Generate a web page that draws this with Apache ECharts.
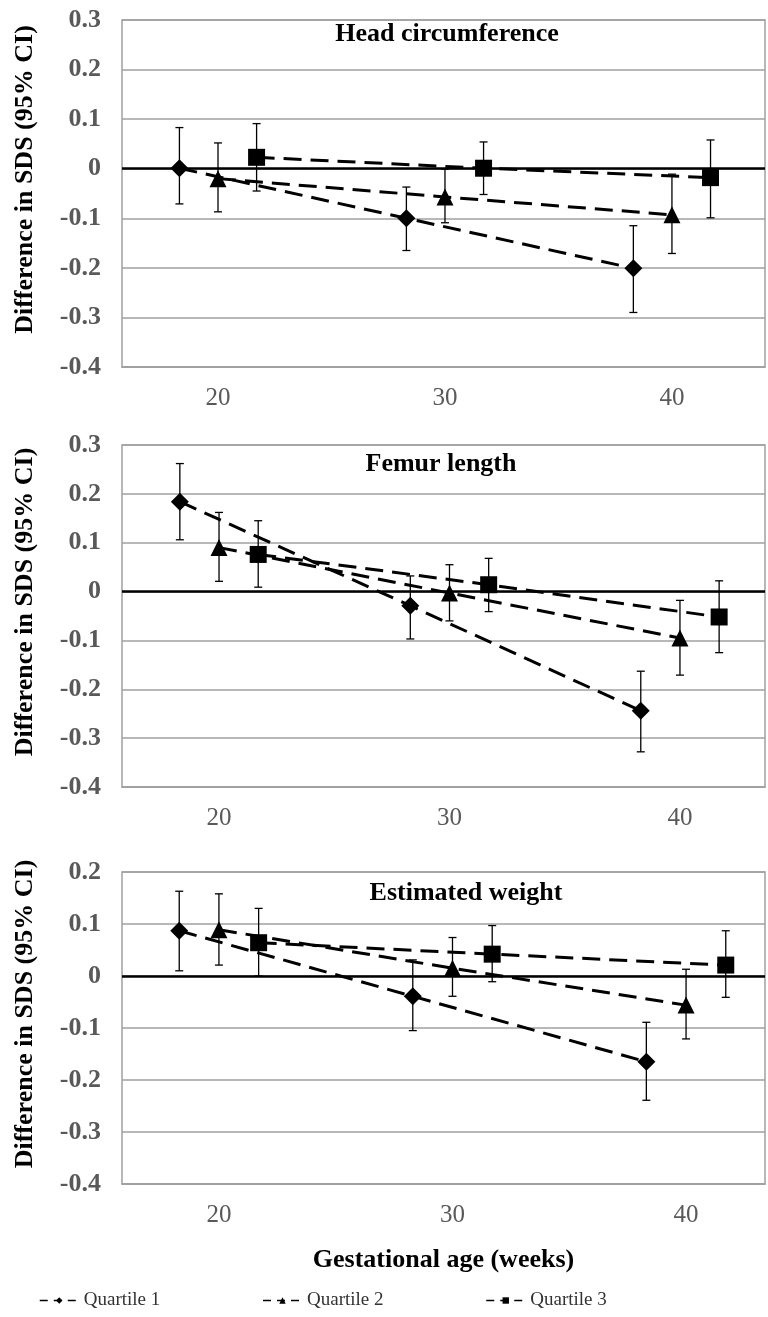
<!DOCTYPE html>
<html>
<head>
<meta charset="utf-8">
<title>Difference in SDS by quartile</title>
<script src="https://cdn.jsdelivr.net/npm/echarts@6/dist/echarts.min.js"></script>
<style>
    html, body { margin: 0; padding: 0; background: #fff; }
    #main { width: 768px; height: 1317px; }
</style>
</head>
<body>
<div id="main"></div>
<script>
    var quartiles = ['Quartile 1', 'Quartile 2', 'Quartile 3'];
    var symbols = ['diamond', 'triangle', 'rect'];
    // gestational age of each measurement, per quartile (offset around 20/30/40 wk)
    var weeksQ1 = [18.3, 28.3, 38.3];
    var weeksQ2 = [20, 30, 40];
    var weeksQ3 = [21.7, 31.7, 41.7];
    var xTicks = [20, 30, 40];
    var panelTitles = ['Head circumference', 'Femur length', 'Estimated weight'];

    // Head circumference: rows = quartile 1..3, cols = 20/30/40 wk
    var headEst  = [[0.001, -0.100, -0.201], [-0.020, -0.057, -0.093], [0.023, 0.001, -0.018]];
    var headLow  = [[-0.071, -0.165, -0.290], [-0.087, -0.109, -0.171], [-0.045, -0.052, -0.099]];
    var headHigh = [[0.083, -0.037, -0.115], [0.052, -0.001, -0.011], [0.091, 0.054, 0.058]];

    // Femur length
    var femurEst  = [[0.184, -0.029, -0.244], [0.090, -0.003, -0.095], [0.076, 0.014, -0.052]];
    var femurLow  = [[0.106, -0.097, -0.328], [0.021, -0.060, -0.171], [0.009, -0.041, -0.125]];
    var femurHigh = [[0.262, 0.032, -0.163], [0.162, 0.055, -0.018], [0.145, 0.068, 0.022]];

    // Estimated weight
    var weightEst  = [[0.087, -0.039, -0.165], [0.089, 0.015, -0.056], [0.064, 0.042, 0.021]];
    var weightLow  = [[0.010, -0.105, -0.239], [0.021, -0.039, -0.121], [0.000, -0.011, -0.041]];
    var weightHigh = [[0.163, 0.031, -0.089], [0.158, 0.074, 0.013], [0.130, 0.097, 0.087]];

    var weeks = [weeksQ1, weeksQ2, weeksQ3];
    var panels = [
        {est: headEst, low: headLow, high: headHigh},
        {est: femurEst, low: femurLow, high: femurHigh},
        {est: weightEst, low: weightLow, high: weightHigh}
    ];

    var serif = '"Liberation Serif", "Times New Roman", serif';
    var gridBox = [
        {top: 20, height: 347},
        {top: 445, height: 342},
        {top: 872, height: 312}
    ];
    var xRange = [[15.77, 44.1], [15.79, 43.69], [15.85, 43.38]];
    var yMax = [0.3, 0.3, 0.2];
    var titlePos = [[447, 21], [441, 451], [466, 880]];

    function errorBar(params, api) {
        var x = api.value(0);
        var top = api.coord([x, api.value(2)]);
        var bot = api.coord([x, api.value(1)]);
        var hw = 4;
        var style = {stroke: '#000', lineWidth: 1.3};
        return {
            type: 'group',
            children: [
                {type: 'line', shape: {x1: top[0], y1: top[1], x2: bot[0], y2: bot[1]}, style: style},
                {type: 'line', shape: {x1: top[0] - hw, y1: top[1], x2: top[0] + hw, y2: top[1]}, style: style},
                {type: 'line', shape: {x1: bot[0] - hw, y1: bot[1], x2: bot[0] + hw, y2: bot[1]}, style: style}
            ]
        };
    }

    var grids = [], xAxes = [], yAxes = [], series = [], titles = [];
    for (var p = 0; p < 3; p++) {
        grids.push({
            left: 122, right: 3, top: gridBox[p].top, height: gridBox[p].height,
            show: true, borderColor: '#a0a0a0', borderWidth: 1.5, backgroundColor: '#fff'
        });
        xAxes.push({
            type: 'value', gridIndex: p, min: xRange[p][0], max: xRange[p][1],
            axisLine: {onZero: false, lineStyle: {color: '#a0a0a0', width: 1.5}},
            axisTick: {show: false},
            splitLine: {show: false},
            axisLabel: {
                customValues: xTicks, margin: 19,
                fontFamily: serif, fontSize: 25, color: '#595959'
            },
            name: p === 2 ? 'Gestational age (weeks)' : '',
            nameLocation: 'middle', nameGap: 63,
            nameTextStyle: {fontFamily: serif, fontSize: 26, fontWeight: 'bold', color: '#000'}
        });
        yAxes.push({
            type: 'value', gridIndex: p, min: -0.4, max: yMax[p], interval: 0.1,
            axisLine: {show: false},
            axisTick: {show: false},
            splitLine: {lineStyle: {color: '#a0a0a0', width: 1.5}},
            axisLabel: {margin: 21, fontFamily: serif, fontSize: 26, fontWeight: 'bold', color: '#595959'},
            name: 'Difference in SDS (95% CI)',
            nameLocation: 'middle', nameRotate: 90, nameGap: 84,
            nameTextStyle: {fontFamily: serif, fontSize: 26, fontWeight: 'bold', color: '#000', padding: [0, 0, 0, 28]}
        });
        titles.push({
            text: panelTitles[p], left: titlePos[p][0], top: titlePos[p][1], textAlign: 'center', padding: 0,
            textStyle: {fontFamily: serif, fontSize: 26, fontWeight: 'bold', color: '#000'}
        });

        var d = panels[p];
        for (var q = 0; q < 3; q++) {
            var bars = [], pts = [];
            for (var i = 0; i < 3; i++) {
                bars.push([weeks[q][i], d.low[q][i], d.high[q][i]]);
                pts.push([weeks[q][i], d.est[q][i]]);
            }
            series.push({
                type: 'custom', xAxisIndex: p, yAxisIndex: p, silent: true,
                renderItem: errorBar, encode: {x: 0, y: [1, 2]}, data: bars, z: 3
            });
            series.push({
                name: quartiles[q], type: 'line', xAxisIndex: p, yAxisIndex: p,
                data: pts, symbol: symbols[q], symbolSize: q === 0 ? 18 : 17,
                itemStyle: {color: '#000'},
                lineStyle: {color: '#000', width: 3, type: [18, 9]},
                z: 4, animation: false
            });
        }
        // solid zero line
        series.push({
            type: 'line', xAxisIndex: p, yAxisIndex: p, data: [], silent: true,
            markLine: {
                silent: true, symbol: 'none', label: {show: false},
                lineStyle: {color: '#000', width: 2.6, type: 'solid'},
                data: [{yAxis: 0}]
            },
            z: 2
        });
    }

    var chart = echarts.init(document.getElementById('main'), null, {renderer: 'canvas'});
    chart.setOption({
        backgroundColor: '#fff',
        animation: false,
        title: titles,
        grid: grids,
        xAxis: xAxes,
        yAxis: yAxes,
        legend: {
            data: quartiles, left: 39, top: 1291, padding: 0,
            itemWidth: 39, itemHeight: 8, itemGap: 102,
            lineStyle: {width: 1.5, type: [8, 6]},
            textStyle: {fontFamily: serif, fontSize: 19, color: '#333'}
        },
        series: series
    });
</script>
</body>
</html>
